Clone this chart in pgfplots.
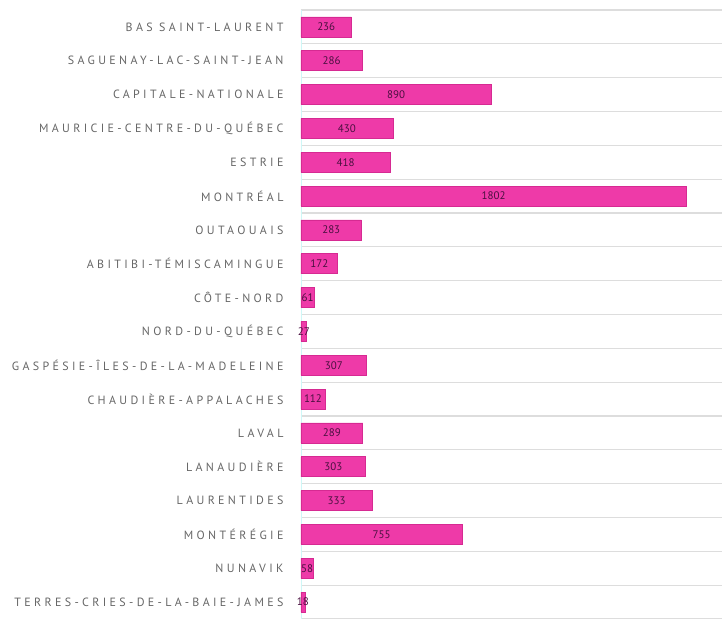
\documentclass[border=0pt]{standalone}
\usepackage{fontspec}
\setmainfont{PT Sans}
\newfontfamily\labfont[LetterSpace=28]{PT Sans}
\usepackage{pgfplots}
\usepackage{pgfplotstable}
\pgfplotsset{compat=1.18}
\definecolor{barpink}{HTML}{EE3AA8}
\definecolor{baredge}{HTML}{D62A92}
\definecolor{labgray}{HTML}{666666}
\definecolor{gridgray}{HTML}{DDDDDD}
\definecolor{valcol}{HTML}{4A1040}
\pgfplotstableread{
idx v
0 236
1 286
2 890
3 430
4 418
5 1802
6 283
7 172
8 61
9 27
10 307
11 112
12 289
13 303
14 333
15 755
16 58
17 18
}\data
\begin{document}
\begin{tikzpicture}
\useasboundingbox (-301bp,0bp) rectangle (421bp,619bp);
\begin{axis}[
  at={(0bp,0bp)}, anchor=south west,
  scale only axis, width=421bp, height=609bp,
  xmin=0, xmax=1970, ymin=-0.5, ymax=17.5, y dir=reverse,
  axis line style={draw=none},
  xtick=\empty,
  major tick length=0pt,
  ytick={0,...,17},
  yticklabels={BAS SAINT-LAURENT, SAGUENAY-LAC-SAINT-JEAN, CAPITALE-NATIONALE, MAURICIE-CENTRE-DU-QUÉBEC, ESTRIE, MONTRÉAL, OUTAOUAIS, ABITIBI-TÉMISCAMINGUE, CÔTE-NORD, NORD-DU-QUÉBEC, GASPÉSIE-ÎLES-DE-LA-MADELEINE, CHAUDIÈRE-APPALACHES, LAVAL, LANAUDIÈRE, LAURENTIDES, MONTÉRÉGIE, NUNAVIK, TERRES-CRIES-DE-LA-BAIE-JAMES},
  yticklabel style={font=\labfont\fontsize{12}{14}\selectfont, text=labgray, xshift=-14bp},
  extra y ticks={-0.5,0.5,...,17.5},
  extra y tick labels={},
  extra y tick style={grid=major, major grid style={draw=gridgray, line width=1.3bp}},
  clip=false,
]
\draw[draw=gridgray!60!cyan!40, line width=0.8bp] (axis cs:0,-0.5) -- (axis cs:0,17.5);
\addplot[xbar, bar width=20bp, fill=barpink, draw=baredge, line width=0.6bp] table[x=v, y=idx] {\data};
\addplot[only marks, mark=none, nodes near coords, point meta=explicit symbolic,
  nodes near coords style={anchor=center, font=\fontsize{11}{13}\selectfont, text=valcol}]
  table[x expr=\thisrow{v}/2, y=idx, meta=v] {\data};
\end{axis}
\end{tikzpicture}
\end{document}
